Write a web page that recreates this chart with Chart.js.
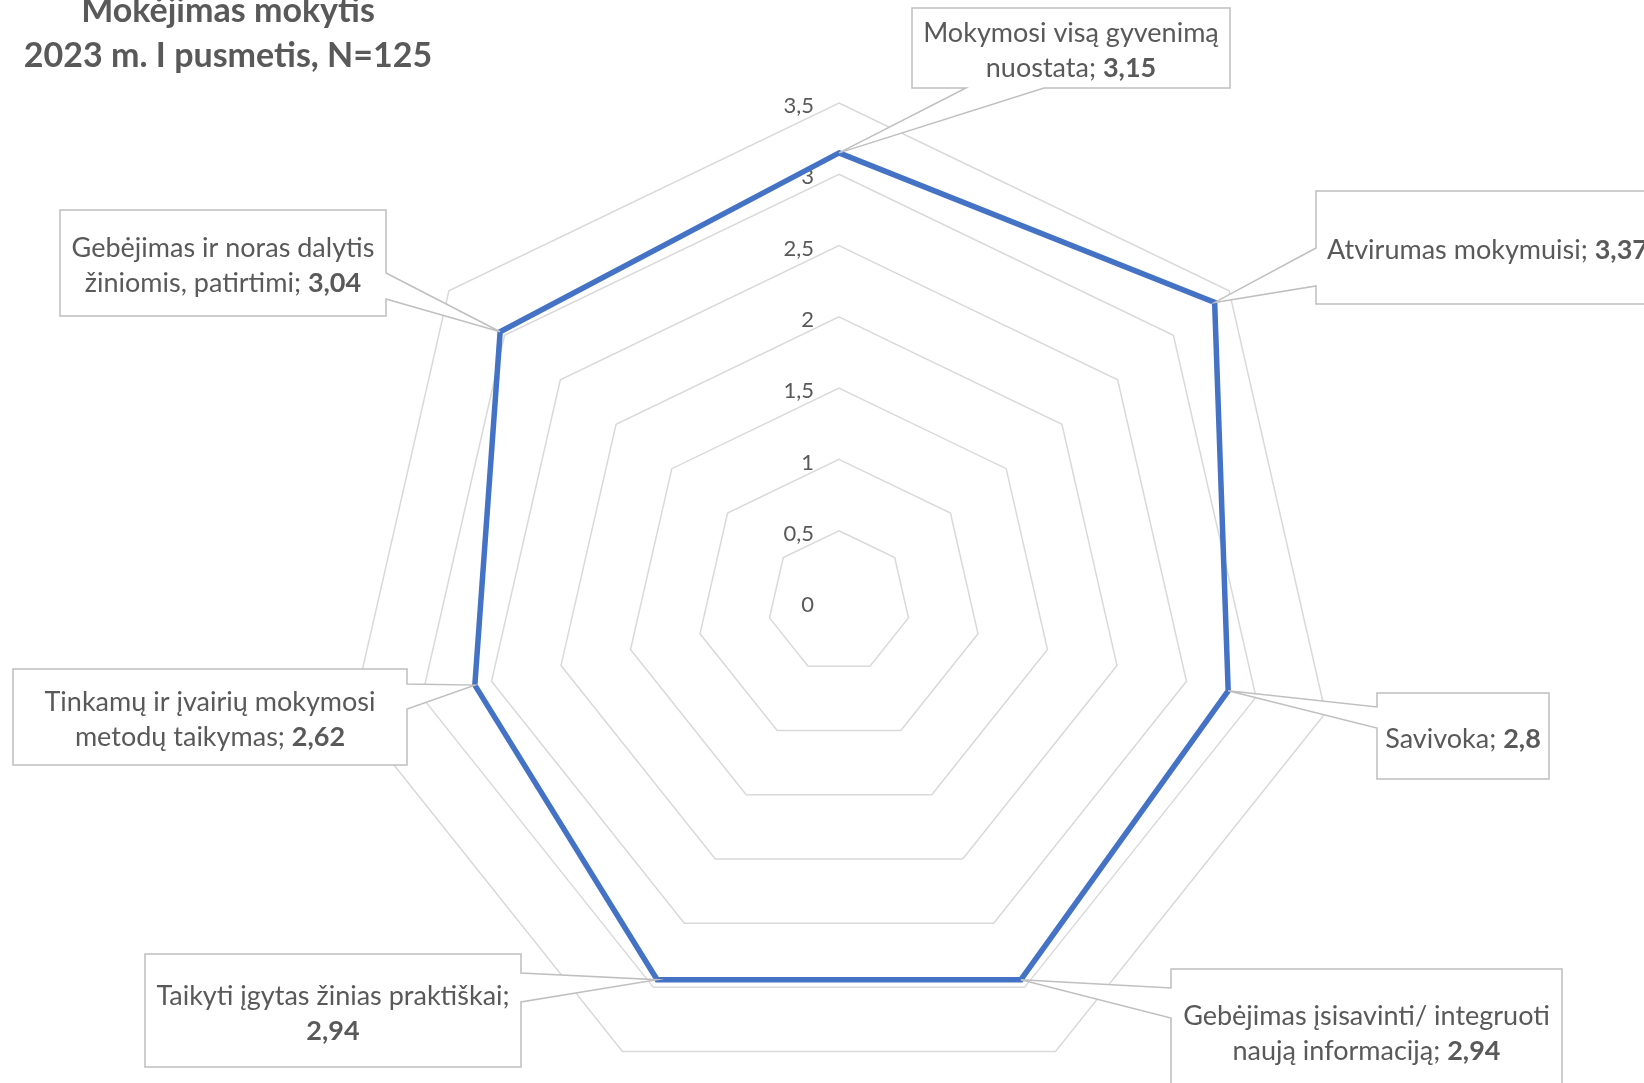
<!DOCTYPE html>
<html>
<head>
<meta charset="utf-8">
<script src="https://cdn.jsdelivr.net/npm/chart.js@4.4.0/dist/chart.umd.min.js"></script>
<style>
  html, body { margin: 0; padding: 0; background: #fff; }
  #wrap { width: 1644px; height: 1083px; overflow: hidden; }
</style>
</head>
<body>
<div id="wrap"><canvas id="chart" width="1644" height="1200"></canvas></div>
<script>
'use strict';

const TITLE_LINES = ['Mokėjimas mokytis', '2023 m. I pusmetis, N=125'];

// category names, already split the way the callouts wrap them
const CATEGORIES = [
  ['Mokymosi visą gyvenimą', 'nuostata'],
  ['Atvirumas mokymuisi'],
  ['Savivoka'],
  ['Gebėjimas įsisavinti/ integruoti', 'naują informaciją'],
  ['Taikyti įgytas žinias praktiškai'],
  ['Tinkamų ir įvairių mokymosi', 'metodų taikymas'],
  ['Gebėjimas ir noras dalytis', 'žiniomis, patirtimi'],
];
const VALUES = [3.15, 3.37, 2.8, 2.94, 2.94, 2.62, 3.04];
const TICK_VALUES = [0, 0.5, 1, 1.5, 2, 2.5, 3, 3.5];

// callout boxes: rect [left, top, right, bottom], side the pointer leaves from, gap on that side
const CALLOUT_BOXES = [
  { rect: [912, 8, 1230, 88],     side: 'bottom', gap: [966, 1044] },
  { rect: [1316, 191, null, 304], side: 'left',   gap: [248, 286] },
  { rect: [1377, 693, 1549, 779], side: 'left',   gap: [707, 728] },
  { rect: [1171, 969, 1562, 1092], side: 'left',  gap: [988, 1018] },
  { rect: [145, 954, 521, 1067],  side: 'right',  gap: [973, 1002], valueBreak: true },
  { rect: [13, 669, 407, 765],    side: 'right',  gap: [684, 709] },
  { rect: [60, 210, 386, 316],    side: 'right',  gap: [273, 299] },
];

const FONT = 'Lato';
const TEXT_COLOR = '#595959';
const GRID_COLOR = '#d9d9d9';
const BOX_BORDER = '#bfbfbf';
const LINE_COLOR = '#4472C4';
const LABEL_SIZE = 27;
const LABEL_LINE = 35;
const TICK_SIZE = 22;
const TITLE_SIZE = 34;

const fmt = v => String(v).replace('.', ',');

function drawBox(ctx, box, rect, anchor) {
  const [l, t, r, b] = rect;
  const [g1, g2] = box.gap;
  ctx.beginPath();
  if (box.side === 'bottom') {
    ctx.moveTo(g2, b); ctx.lineTo(r, b); ctx.lineTo(r, t); ctx.lineTo(l, t); ctx.lineTo(l, b); ctx.lineTo(g1, b);
  } else if (box.side === 'left') {
    ctx.moveTo(l, g1); ctx.lineTo(l, t); ctx.lineTo(r, t); ctx.lineTo(r, b); ctx.lineTo(l, b); ctx.lineTo(l, g2);
  } else {
    ctx.moveTo(r, g1); ctx.lineTo(r, t); ctx.lineTo(l, t); ctx.lineTo(l, b); ctx.lineTo(r, b); ctx.lineTo(r, g2);
  }
  ctx.lineTo(anchor.x, anchor.y);
  ctx.closePath();
  ctx.fill();
  ctx.stroke();
}

function calloutLines(i) {
  const lines = CATEGORIES[i].map(s => [{ text: s, bold: false }]);
  const last = lines[lines.length - 1];
  const val = { text: fmt(VALUES[i]), bold: true };
  if (CALLOUT_BOXES[i].valueBreak) {
    last.push({ text: ';', bold: false });
    lines.push([val]);
  } else {
    last.push({ text: '; ', bold: false });
    last.push(val);
  }
  return lines;
}

const setFont = (ctx, bold, size) => { ctx.font = (bold ? 'bold ' : '') + size + 'px ' + FONT; };

function lineWidth(ctx, segs) {
  return segs.reduce((w, s) => { setFont(ctx, s.bold, LABEL_SIZE); return w + ctx.measureText(s.text).width; }, 0);
}

const radarDecor = {
  id: 'radarDecor',
  beforeDatasetsDraw(chart) {
    // tick labels, to the left of the vertical axis
    const ctx = chart.ctx;
    const scale = chart.scales.r;
    ctx.save();
    setFont(ctx, false, TICK_SIZE);
    ctx.fillStyle = TEXT_COLOR;
    ctx.textAlign = 'right';
    ctx.textBaseline = 'middle';
    scale.ticks.forEach(t => {
      const y = scale.yCenter - scale.getDistanceFromCenterForValue(t.value);
      ctx.fillText(fmt(t.value), scale.xCenter - 25, y + 3);
    });
    ctx.restore();
  },
  afterDatasetsDraw(chart) {
    const ctx = chart.ctx;
    const pts = chart.getDatasetMeta(0).data;
    ctx.save();
    ctx.lineWidth = 1.5;
    ctx.strokeStyle = BOX_BORDER;
    ctx.lineJoin = 'miter';
    CALLOUT_BOXES.forEach((box, i) => {
      const lines = calloutLines(i);
      const widths = lines.map(segs => lineWidth(ctx, segs));
      const rect = box.rect.slice();
      if (rect[2] === null) rect[2] = rect[0] + Math.max(...widths) + 22;
      ctx.fillStyle = '#fff';
      drawBox(ctx, box, rect, pts[i]);
      const cx = (rect[0] + rect[2]) / 2;
      const cy = (rect[1] + rect[3]) / 2 + 3;
      ctx.fillStyle = TEXT_COLOR;
      ctx.textAlign = 'left';
      ctx.textBaseline = 'middle';
      lines.forEach((segs, k) => {
        let x = cx - widths[k] / 2;
        const y = cy + (k - (lines.length - 1) / 2) * LABEL_LINE;
        segs.forEach(s => {
          setFont(ctx, s.bold, LABEL_SIZE);
          ctx.fillText(s.text, x, y);
          x += ctx.measureText(s.text).width;
        });
      });
    });
    ctx.restore();
  },
  afterDraw(chart) {
    const ctx = chart.ctx;
    ctx.save();
    setFont(ctx, true, TITLE_SIZE);
    ctx.fillStyle = TEXT_COLOR;
    ctx.textAlign = 'center';
    ctx.textBaseline = 'alphabetic';
    ctx.fillText(TITLE_LINES[0], 228, 22);
    ctx.fillText(TITLE_LINES[1], 228, 67);
    ctx.restore();
  }
};

Chart.defaults.font.family = FONT;

new Chart(document.getElementById('chart'), {
  type: 'radar',
  data: {
    labels: CATEGORIES,
    datasets: [{
      data: VALUES,
      borderColor: LINE_COLOR,
      backgroundColor: 'rgba(0,0,0,0)',
      borderWidth: 5.5,
      borderJoinStyle: 'miter',
      pointRadius: 0,
      pointHoverRadius: 0,
      fill: false,
      tension: 0,
    }]
  },
  options: {
    responsive: false,
    animation: false,
    devicePixelRatio: 1,
    layout: { padding: { left: 340, right: 306, top: 103, bottom: 99 } },
    plugins: {
      legend: { display: false },
      tooltip: { enabled: false },
    },
    scales: {
      r: {
        min: TICK_VALUES[0],
        max: TICK_VALUES[TICK_VALUES.length - 1],
        ticks: { display: false, stepSize: TICK_VALUES[1] - TICK_VALUES[0] },
        pointLabels: { display: false },
        angleLines: { display: false },
        grid: { color: GRID_COLOR, lineWidth: 1.5 },
      }
    }
  },
  plugins: [radarDecor],
});
</script>
</body>
</html>
